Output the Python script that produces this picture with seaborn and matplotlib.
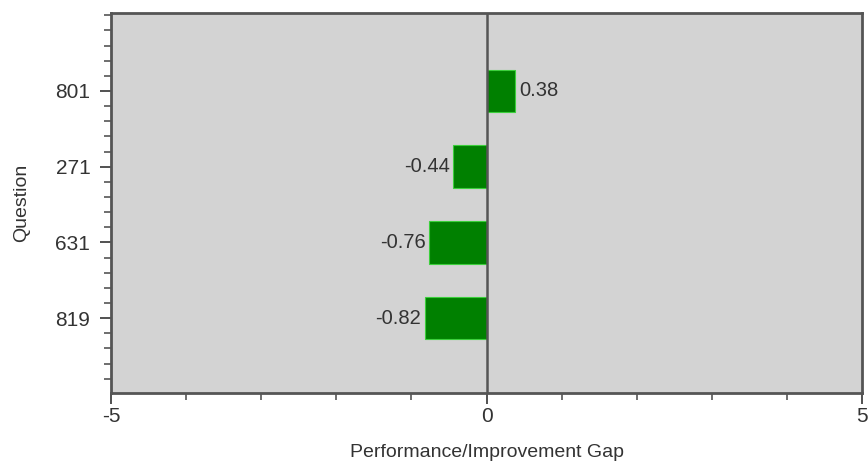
import pandas as pd
import seaborn as sns
import matplotlib
import matplotlib.pyplot as plt
from matplotlib.ticker import MultipleLocator, FixedLocator

matplotlib.use('Agg')

# Chart data
questions = ['801', '271', '631', '819']
gaps = [0.38, -0.44, -0.76, -0.82]

df = pd.DataFrame({'Question': questions, 'Gap': gaps})

sns.set_style('white')
plt.rcParams['font.family'] = ['Liberation Sans', 'DejaVu Sans']
plt.rcParams['axes.unicode_minus'] = False

fig = plt.figure(figsize=(8.68, 4.62), dpi=100)
ax = fig.add_axes([0.128, 0.149, 0.865, 0.823])
ax.set_facecolor('#d3d3d3')

sns.barplot(data=df, x='Gap', y='Question', order=questions, orient='h',
            color='#008000', saturation=1, width=0.56,
            edgecolor='#3ccf3c', linewidth=0.8, ax=ax)

# zero line
ax.axvline(0, color='#555555', linewidth=1.8, zorder=1)

# value labels
for v, y in zip(gaps, range(len(questions))):
    if v >= 0:
        ax.text(v + 0.05, y, f'{v:.2f}', ha='left', va='center',
                fontsize=14.5, color='#333333')
    else:
        ax.text(v - 0.05, y, f'{v:.2f}', ha='right', va='center',
                fontsize=14.5, color='#333333')

ax.set_xlim(-5, 5)
ax.set_ylim(3.99, -1.03)
ax.xaxis.set_major_locator(FixedLocator([-5, 0, 5]))
ax.xaxis.set_minor_locator(MultipleLocator(1))
ax.yaxis.set_minor_locator(MultipleLocator(0.2))

ax.tick_params(axis='both', which='major', direction='out', length=8, width=1.2,
               color='#333333', labelsize=15, labelcolor='#333333', left=True, bottom=True)
ax.tick_params(axis='x', which='major', pad=2)
ax.tick_params(axis='y', which='major', pad=7)
ax.tick_params(axis='both', which='minor', direction='out', length=5, width=1.2,
               color='#555555', left=True, bottom=True)

for s in ax.spines.values():
    s.set_color('#555555')
    s.set_linewidth(2)

ax.set_xlabel('Performance/Improvement Gap', fontsize=14, color='#333333', labelpad=13)
ax.set_ylabel('Question', fontsize=14, color='#333333', labelpad=18)

plt.savefig('out.png', dpi=100, facecolor='white')
